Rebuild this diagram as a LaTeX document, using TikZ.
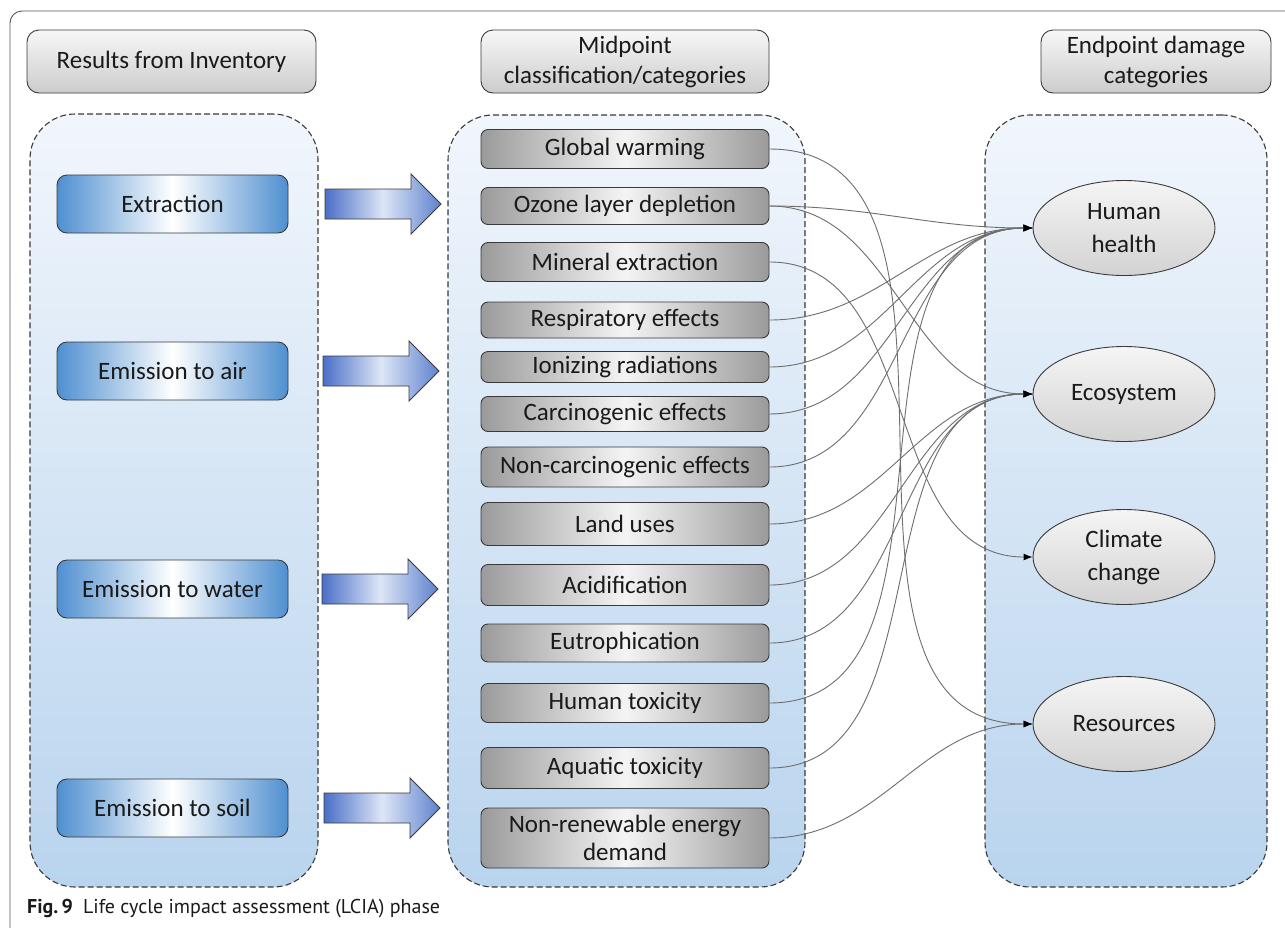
\documentclass[tikz,border=0pt]{standalone}
\usepackage{fontspec}
\setmainfont{Carlito}
\newfontfamily\capfont{PT Sans}
\usetikzlibrary{arrows.meta,shapes.geometric}
\definecolor{txtc}{HTML}{1A1A1A}
\definecolor{framec}{HTML}{555555}
\definecolor{bordc}{HTML}{3A3A3A}
\definecolor{pantop}{HTML}{F1F6FC}
\definecolor{panbot}{HTML}{B9D4EE}
\definecolor{hdrtop}{HTML}{F7F7F7}
\definecolor{hdrbot}{HTML}{CCCCCC}
\definecolor{bblue}{HTML}{4F8FD0}
\definecolor{mgray}{HTML}{9A9A9A}
\definecolor{mlight}{HTML}{F4F4F4}
\definecolor{elltop}{HTML}{F5F5F5}
\definecolor{ellbot}{HTML}{D2D2D2}
\definecolor{arrl}{HTML}{4A6FC7}
\definecolor{arrm}{HTML}{DDE6F6}
\definecolor{arrr}{HTML}{5F82CE}
\definecolor{connc}{HTML}{6E6E6E}
\tikzset{
  base/.style={inner sep=0pt, text=txtc, align=center, font=\fontsize{25}{30}\selectfont},
  hdrbox/.style={base, draw=bordc, line width=0.9pt, rounded corners=12pt,
    top color=hdrtop, bottom color=hdrbot, minimum height=63pt},
  panel/.style={inner sep=0pt, draw=bordc, line width=1.1pt, dash pattern=on 6pt off 3pt,
    rounded corners=45pt, top color=pantop, bottom color=panbot},
  bluebox/.style={base, draw=bordc, line width=0.9pt, rounded corners=10pt,
    left color=bblue, right color=bblue, middle color=white,
    minimum width=231pt, minimum height=58pt},
  midbox/.style={base, draw=bordc, line width=0.9pt, rounded corners=7pt,
    left color=mgray, right color=mgray, middle color=mlight, minimum width=288pt},
  endell/.style={base, ellipse, draw=bordc, line width=0.9pt, top color=elltop, bottom color=ellbot,
    minimum width=182pt, minimum height=95pt, font=\fontsize{25}{33}\selectfont},
  blockarr/.style={draw=bordc, line width=0.9pt, left color=arrl, right color=arrr, middle color=arrm},
  barrow/.pic={\path[blockarr] (0,-15) -- (86,-15) -- (86,-30) -- (116,0) -- (86,30) -- (86,15) -- (0,15) -- cycle;},
  conn/.style={draw=connc, line width=0.9pt, -{Latex[length=9pt,width=7pt,color=black]}}
}
\begin{document}
\begin{tikzpicture}[x=1pt,y=-1pt]
\useasboundingbox (0,0) rectangle (1285,927);
\fill[white] (0,0) rectangle (1285,927);
% outer frame
\draw[framec, line width=0.9pt, rounded corners=12pt] (10,11) rectangle (1320,945);
% headers
\node[hdrbox, minimum width=289pt] (hdrL) at (171.5,61.5) {Results from Inventory};
\node[hdrbox, minimum width=288pt, font=\fontsize{25}{30}\selectfont] (hdrM) at (625,61.5) {Midpoint\\classification/categories};
\node[hdrbox, minimum width=230pt, font=\fontsize{25}{30}\selectfont] (hdrR) at (1156,61.5) {Endpoint damage\\categories};
% panels
\node[panel, minimum width=288pt, minimum height=773pt] (panL) at (174,500.5) {};
\node[panel, minimum width=357pt, minimum height=772pt] (panM) at (626.5,501) {};
\node[panel, minimum width=282pt, minimum height=772pt] (panR) at (1126,501) {};
% inventory boxes
\node[bluebox] (ext) at (172.5,204) {Extraction};
\node[bluebox] (air) at (172.5,371) {Emission to air};
\node[bluebox] (water) at (172.5,589) {Emission to water};
\node[bluebox] (soil) at (172.5,808) {Emission to soil};
% block arrows
\pic at (325,204) {barrow};
\pic at (323,371) {barrow};
\pic at (322,589) {barrow};
\pic at (324,808) {barrow};
% endpoint ellipses
\node[endell] (hh) at (1124,228) {Human\\health};
\node[endell] (eco) at (1124,394) {Ecosystem};
\node[endell] (cc) at (1124,557) {Climate\\change};
\node[endell] (res) at (1124,724) {Resources};
% midpoint boxes
\node[midbox, minimum height=39pt] (gw) at (625,149) {Global warming};
\node[midbox, minimum height=37pt] (oz) at (625,206) {Ozone layer depletion};
\node[midbox, minimum height=39pt] (min) at (625,262) {Mineral extraction};
\node[midbox, minimum height=36pt] (resp) at (625,320) {Respiratory effects};
\node[midbox, minimum height=31pt] (ion) at (625,367) {Ionizing radiations};
\node[midbox, minimum height=35pt] (carc) at (625,414) {Carcinogenic effects};
\node[midbox, minimum height=40pt] (ncarc) at (625,467) {Non-carcinogenic effects};
\node[midbox, minimum height=43pt] (land) at (625,524) {Land uses};
\node[midbox, minimum height=41pt] (acid) at (625,585) {Acidification};
\node[midbox, minimum height=38pt] (eutro) at (625,643) {Eutrophication};
\node[midbox, minimum height=39pt] (htox) at (625,703) {Human toxicity};
\node[midbox, minimum height=41pt] (aqua) at (625,768) {Aquatic toxicity};
\node[midbox, minimum height=60pt, font=\fontsize{25}{28}\selectfont] (nre) at (625,838) {Non-renewable energy\\demand};
% connectors
\draw[conn] (gw.east) to[out=0,in=180] (res.west);
\draw[conn] (oz.east) to[out=0,in=180] (hh.west);
\draw[conn] (oz.east) to[out=0,in=180] (eco.west);
\draw[conn] (min.east) to[out=0,in=180] (cc.west);
\draw[conn] (resp.east) to[out=0,in=180] (hh.west);
\draw[conn] (ion.east) to[out=0,in=180] (hh.west);
\draw[conn] (carc.east) to[out=0,in=180] (hh.west);
\draw[conn] (ncarc.east) to[out=0,in=180] (hh.west);
\draw[conn] (land.east) to[out=0,in=180] (eco.west);
\draw[conn] (acid.east) to[out=0,in=180] (eco.west);
\draw[conn] (eutro.east) to[out=0,in=180] (eco.west);
\draw[conn] (htox.east) to[out=0,in=180] (hh.west);
\draw[conn] (aqua.east) to[out=0,in=180] (eco.west);
\draw[conn] (nre.east) to[out=0,in=180] (res.west);
% caption
\node[anchor=west, inner sep=0pt, text=txtc, font=\capfont\fontsize{20}{24}\selectfont] (cap) at (27,909)
  {\textbf{Fig.\,9}\hspace{10pt}Life cycle impact assessment (LCIA) phase};
\end{tikzpicture}
\end{document}
